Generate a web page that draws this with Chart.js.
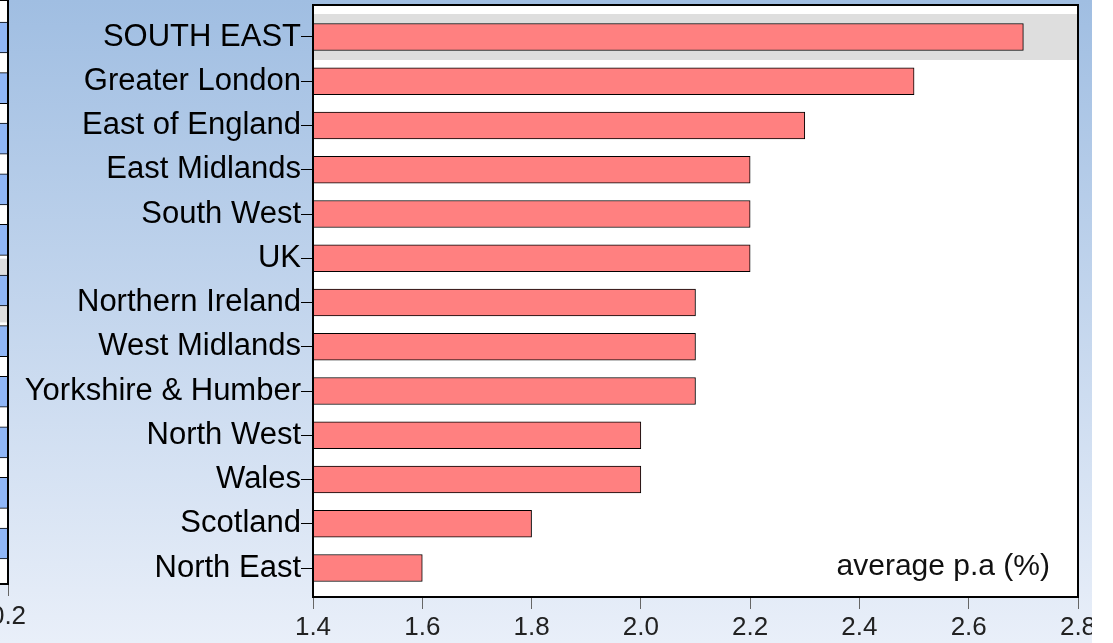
<!DOCTYPE html>
<html>
<head>
<meta charset="utf-8">
<script src="https://cdn.jsdelivr.net/npm/chart.js@4/dist/chart.umd.min.js"></script>
<style>
  body { margin: 0; background: #fff; }
  #wrap { position: relative; width: 1092px; height: 643px; overflow: hidden;
          background: linear-gradient(#a0bee2, #e9eff9); }
  .box { position: absolute; top: 0; height: 643px; }
</style>
</head>
<body>
<div id="wrap">
  <div class="box" style="left:-262px;width:300px"><canvas id="leftChart"></canvas></div>
  <div class="box" style="left:0;width:1113px"><canvas id="mainChart"></canvas></div>
</div>
<script>
// regions, top to bottom
const regions = ['SOUTH EAST', 'Greater London', 'East of England', 'East Midlands',
  'South West', 'UK', 'Northern Ireland', 'West Midlands', 'Yorkshire & Humber',
  'North West', 'Wales', 'Scotland', 'North East'];
const growth = [2.7, 2.5, 2.3, 2.2, 2.2, 2.2, 2.1, 2.1, 2.1, 2.0, 2.0, 1.8, 1.6];
const xTickValues = [1.4, 1.6, 1.8, 2.0, 2.2, 2.4, 2.6, 2.8];
const highlightRow = 0;
const unitLabel = 'average p.a (%)';

// the neighbouring chart, only its right edge shows
const leftValues = [0.3, 0.3, 0.3, 0.3, 0.3, 0.3, 0.3, 0.3, 0.3, 0.3, 0.3];
const leftTickValues = [0.2];
const leftHighlightRow = 5;

const FONT = 'Liberation Sans, Arial, sans-serif';

function framePlugin(band, bandHalf, label) {
  return {
    id: 'frame',
    beforeDraw(chart) {
      const { ctx, chartArea: a, scales } = chart;
      ctx.save();
      ctx.fillStyle = '#fff';
      ctx.fillRect(a.left, a.top, a.right - a.left, a.bottom - a.top);
      // grey band behind the highlighted row
      const y1 = scales.y.getPixelForValue(band - bandHalf);
      const y2 = scales.y.getPixelForValue(band + bandHalf);
      ctx.fillStyle = '#dedede';
      ctx.fillRect(a.left, Math.min(y1, y2), a.right - a.left, Math.abs(y2 - y1));
      ctx.restore();
    },
    afterDraw(chart) {
      const { ctx, chartArea: a } = chart;
      ctx.save();
      ctx.strokeStyle = '#000';
      ctx.lineWidth = 2;
      ctx.strokeRect(a.left, a.top, a.right - a.left, a.bottom - a.top);
      if (label) {
        ctx.fillStyle = '#111';
        ctx.font = '30px ' + FONT;
        ctx.textAlign = 'right';
        ctx.textBaseline = 'middle';
        ctx.fillText(label, a.right - 28, a.bottom - 30);
      }
      ctx.restore();
    }
  };
}

new Chart(document.getElementById('mainChart'), {
  type: 'bar',
  data: {
    datasets: [{
      data: growth.map((v, i) => ({ x: v, y: i })),
      backgroundColor: '#ff8080',
      borderColor: '#000',
      borderWidth: 1,
      barThickness: 27
    }]
  },
  options: {
    indexAxis: 'y',
    responsive: true,
    maintainAspectRatio: false,
    animation: false,
    layout: { padding: { top: 5, right: 35, left: 0, bottom: 0 } },
    plugins: { legend: { display: false }, tooltip: { enabled: false } },
    scales: {
      x: {
        type: 'linear',
        min: 1.4,
        max: 2.8,
        afterBuildTicks: s => { s.ticks = xTickValues.map(v => ({ value: v })); },
        afterFit: s => { s.height = 46; },
        border: { display: false },
        grid: { drawOnChartArea: false, tickLength: 12, color: '#666' },
        ticks: {
          padding: 3,
          color: '#222',
          font: { family: FONT, size: 26 },
          callback: v => v.toFixed(1)
        }
      },
      y: {
        type: 'linear',
        reverse: true,
        offset: false,
        min: -0.723,
        max: 12.655,
        afterBuildTicks: s => { s.ticks = regions.map((r, i) => ({ value: i })); },
        afterFit: s => { s.width = 313; s.paddingTop = 0; s.paddingBottom = 0; },
        border: { display: false },
        grid: { offset: false, drawOnChartArea: false, tickLength: 12, color: '#000' },
        ticks: {
          padding: 0,
          color: '#000',
          font: { family: FONT, size: 31 },
          callback: v => regions[v]
        }
      }
    }
  },
  plugins: [framePlugin(highlightRow, 0.52, unitLabel)]
});

new Chart(document.getElementById('leftChart'), {
  type: 'bar',
  data: {
    datasets: [{
      data: leftValues.map((v, i) => ({ x: v, y: i })),
      backgroundColor: '#8fb6f6',
      borderColor: '#000',
      borderWidth: 1,
      barThickness: 31
    }]
  },
  options: {
    indexAxis: 'y',
    responsive: true,
    maintainAspectRatio: false,
    animation: false,
    layout: { padding: { top: 0, right: 30, left: 0, bottom: 0 } },
    plugins: { legend: { display: false }, tooltip: { enabled: false } },
    scales: {
      x: {
        type: 'linear',
        min: 0,
        max: 0.2,
        afterBuildTicks: s => { s.ticks = leftTickValues.map(v => ({ value: v })); },
        afterFit: s => { s.height = 59; },
        border: { display: false },
        grid: { drawOnChartArea: false, tickLength: 12, color: '#666' },
        ticks: {
          padding: 5,
          color: '#222',
          font: { family: FONT, size: 26 },
          callback: v => v.toFixed(1)
        }
      },
      y: {
        type: 'linear',
        display: false,
        reverse: true,
        offset: false,
        grid: { offset: false },
        min: -0.741,
        max: 10.8
      }
    }
  },
  plugins: [framePlugin(leftHighlightRow, 0.63, null)]
});
</script>
</body>
</html>
